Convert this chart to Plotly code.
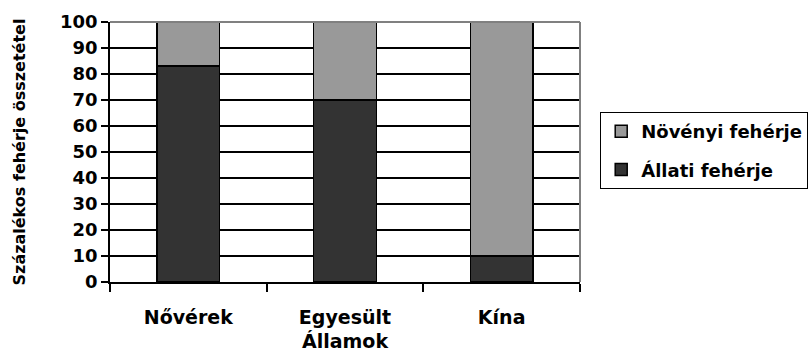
import plotly.graph_objects as go

# Protein composition (%) by population group
categories = ["Nővérek", "Egyesült<br>Államok", "Kína"]
animal_protein = [83, 70, 10]
plant_protein = [17, 30, 90]
series_names = ["Állati fehérje", "Növényi fehérje"]
y_ticks = [0, 10, 20, 30, 40, 50, 60, 70, 80, 90, 100]
y_title = "Százalékos fehérje összetétel"

FONT = "DejaVu Sans"
DARK = "#333333"
LIGHT = "#999999"

fig = go.Figure()
fig.add_trace(go.Bar(
    x=categories, y=animal_protein, name=series_names[0],
    marker=dict(color=DARK, line=dict(color="black", width=1.5)),
    width=0.4, legendgroup="a", legendrank=2,
))
fig.add_trace(go.Bar(
    x=categories, y=plant_protein, name=series_names[1],
    marker=dict(color=LIGHT, line=dict(color="black", width=1.5)),
    width=0.4, legendgroup="b", legendrank=1,
))

fig.update_layout(
    width=812, height=360,
    margin=dict(l=110, r=232, t=22, b=78, autoexpand=False),
    barmode="stack",
    paper_bgcolor="white", plot_bgcolor="white",
    font=dict(family=FONT, color="black", size=19, weight=700),
    showlegend=True,
    legend=dict(
        x=1.043, xanchor="left", y=0.654, yanchor="top",
        bordercolor="black", borderwidth=1,
        traceorder="grouped", tracegroupgap=12,
        font=dict(family=FONT, size=18, weight=700),
        bgcolor="white",
    ),
    xaxis=dict(
        type="category",
        showline=True, linecolor="black", linewidth=1.5,
        ticks="outside", tickson="boundaries", ticklen=8,
        tickwidth=1.5, tickcolor="black",
        showgrid=False,
        tickfont=dict(family=FONT, size=19, weight=700),
        ticklabelstandoff=17,
    ),
    yaxis=dict(
        range=[0, 100], tickvals=y_ticks,
        showline=True, linecolor="black", linewidth=1.5,
        ticks="outside", ticklen=7, tickwidth=1.5, tickcolor="black",
        showgrid=True, gridcolor="black", gridwidth=1.5,
        zeroline=False,
        tickfont=dict(family=FONT, size=18, weight=700),
        title=dict(text=y_title,
                   font=dict(family=FONT, size=16, weight=700),
                   standoff=30),
    ),
    bargap=0.6,
)

# Gray frame on the top and right edges of the plot area
fig.add_shape(type="line", xref="paper", yref="paper", x0=0, x1=1, y0=1, y1=1,
              line=dict(color="#808080", width=2), layer="above")
fig.add_shape(type="line", xref="paper", yref="paper", x0=1, x1=1, y0=0, y1=1,
              line=dict(color="#808080", width=2), layer="above")

fig.write_html("out.html")
